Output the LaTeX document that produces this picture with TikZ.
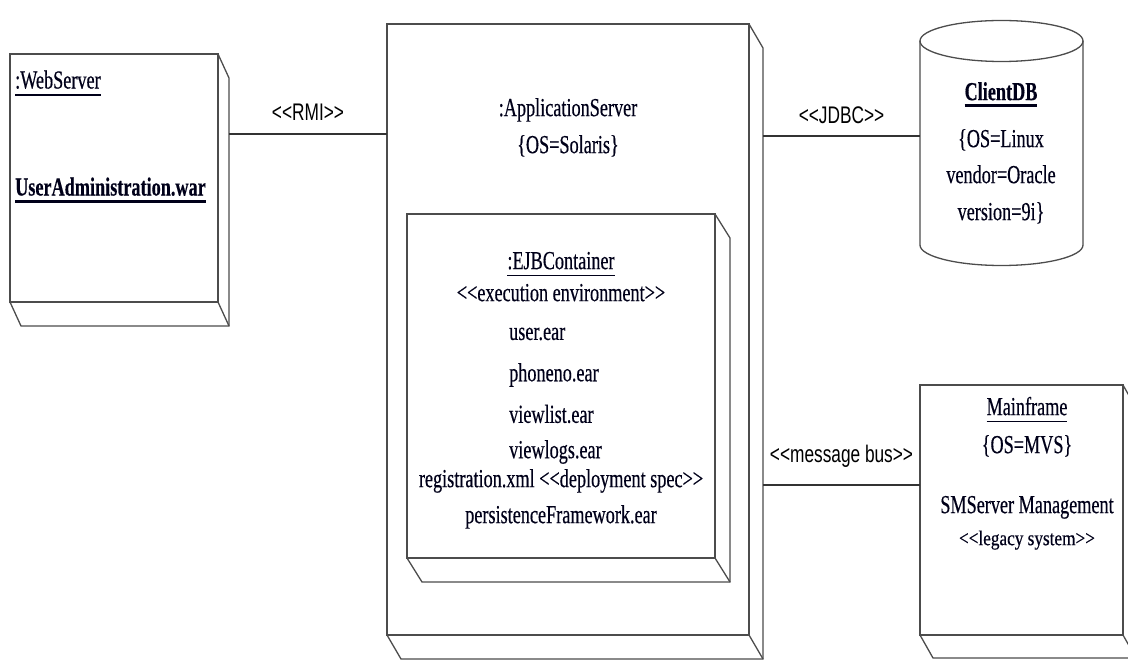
\documentclass[tikz,border=0pt]{standalone}
\usepackage{fontspec}
\usetikzlibrary{calc}
\newfontfamily\tnr{Liberation Serif}[FakeStretch=0.70, FakeBold=0.4]
\newfontfamily\tnrwide{Liberation Serif}[FakeStretch=0.82, FakeBold=0.4]
\newfontfamily\arl{Liberation Sans}[FakeStretch=0.72]

% underline with a given rule thickness, set a fixed distance below the baseline
\newcommand\ulx[2]{\setbox0\hbox{#2}\rlap{\rule[-7pt]{\wd0}{#1}}\box0}
\newcommand\uln[1]{\ulx{1.6pt}{#1}}
\newcommand\bul[1]{\ulx{3pt}{#1}}

% draws the visible right and bottom faces of a 3D node box
\newcommand\boxfaces[3]{%
  \draw[edge] (#1.north east) -- ++(#2,#3) -- ($(#1.south east)+(#2,#3)$)
    -- ($(#1.south west)+(#2,#3)$) -- (#1.south west);
  \draw[edge] (#1.south east) -- ++(#2,#3);}

\tikzset{
  edge/.style={draw=black!70, line width=1.3pt, line join=miter},
  face/.style={edge, rectangle, anchor=north west, inner sep=0pt, outer sep=0pt},
  txt/.style={inner sep=0pt, anchor=mid, text=black!90!blue, font=\tnr\fontsize{26}{30}\selectfont},
  small/.style={inner sep=0pt, anchor=mid, text=black!90!blue, font=\tnrwide\fontsize{21}{25}\selectfont},
  lbl/.style={inner sep=0pt, anchor=mid, font=\arl\fontsize{24}{28}\selectfont},
  conn/.style={draw=black!80, line width=1.4pt},
}

\begin{document}
\begin{tikzpicture}[x=1pt, y=-1pt]
\useasboundingbox (0,0) rectangle (1128,660);
\clip (0,0) rectangle (1128,660);

% ---- web server node ----
\node[face, minimum width=208, minimum height=248] (web) at (10,54) {};
\boxfaces{web}{11}{24}
\node[txt, anchor=west] (webname) at (15,83) {\uln{:WebServer}};
\node[txt, anchor=west] (webapp) at (15,190) {\bfseries\bul{UserAdministration.war}};

% ---- application server node ----
\node[face, minimum width=362, minimum height=611] (app) at (387,24) {};
\boxfaces{app}{14}{24}
\node[txt] (appname) at (568,114) {:ApplicationServer};
\node[txt] (appos) at (568,151) {\{OS=Solaris\}};

% ---- EJB container ----
\node[face, minimum width=308, minimum height=344] (ejb) at (407,214) {};
\boxfaces{ejb}{15}{24}
\node[txt] (ejbname) at (561,267) {\uln{:EJBContainer}};
\node[txt] (ejbst) at (561,299) {<<execution environment>>};
\node[txt, anchor=west] (e1) at (509,334) {user.ear};
\node[txt, anchor=west] (e2) at (509,375) {phoneno.ear};
\node[txt, anchor=west] (e3) at (509,414) {viewlist.ear};
\node[txt, anchor=west] (e4) at (509,452) {viewlogs.ear};
\node[txt] (e5) at (561,485) {registration.xml <<deployment spec>>};
\node[txt] (e6) at (561,521) {persistenceFramework.ear};

% ---- database cylinder ----
\node[inner sep=0pt, outer sep=0pt, minimum width=163, minimum height=204] (db) at (1001.5,143) {};
\draw[edge] (db.north west) -- (db.south west)
  arc[start angle=180, end angle=360, x radius=81.5pt, y radius=20.5pt]
  -- (db.north east);
\draw[edge] (db.north) ellipse[x radius=81.5pt, y radius=20.5pt];
\node[txt] (dbname) at (1001,98) {\bfseries\bul{ClientDB}};
\node[txt] (db1) at (1001,145) {\{OS=Linux};
\node[txt] (db2) at (1001,181) {vendor=Oracle};
\node[txt] (db3) at (1001,218) {version=9i\}};

% ---- mainframe node ----
\node[face, minimum width=203, minimum height=250] (mf) at (920,385) {};
\boxfaces{mf}{13}{23}
\node[txt] (mfname) at (1027,413) {\uln{Mainframe}};
\node[txt] (mfos) at (1027,451) {\{OS=MVS\}};
\node[txt] (mfsys) at (1027,511) {SMServer Management};
\node[small] (mfst) at (1027,543) {<<legacy system>>};

% ---- communication paths ----
\coordinate (webport) at ($(web.north east)+(11,80)$);
\coordinate (appportA) at ($(app.north east)+(14,112)$);
\coordinate (appportB) at ($(app.north east)+(14,461)$);
\draw[conn] (webport) -- (webport -| app.west)
  node[lbl, midway, above=13pt] (rmi) {<<RMI>>};
\draw[conn] (appportA) -- (appportA -| db.west)
  node[lbl, midway, above=12pt] (jdbc) {<<JDBC>>};
\draw[conn] (appportB) -- (appportB -| mf.west)
  node[lbl, midway, above=17pt] (bus) {<<message bus>>};
\end{tikzpicture}
\end{document}
